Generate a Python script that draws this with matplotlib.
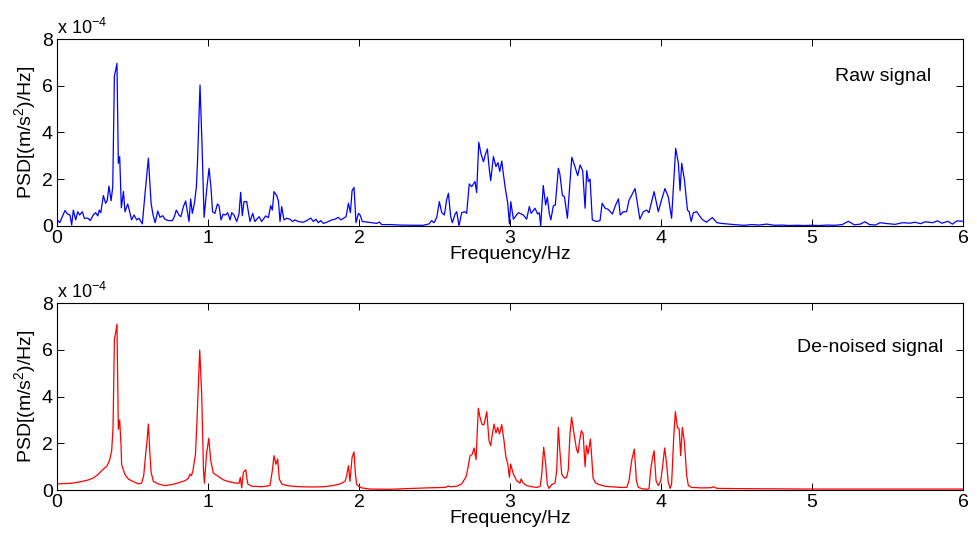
import numpy as np
import matplotlib.pyplot as plt

plt.rcParams['font.family'] = ['Liberation Sans', 'DejaVu Sans']
plt.rcParams['mathtext.fontset'] = 'custom'
plt.rcParams['mathtext.rm'] = 'Liberation Sans'

# PSD in units of 1e-4 (m/s^2)^2/Hz
freq_raw = [
    0.000, 0.018, 0.035, 0.053, 0.070, 0.086, 0.097, 0.108, 0.124, 0.137,
    0.150, 0.168, 0.181, 0.207, 0.220, 0.240, 0.256, 0.270, 0.280, 0.290,
    0.307, 0.322, 0.333, 0.344, 0.358, 0.369, 0.380, 0.389, 0.397, 0.406,
    0.415, 0.426, 0.440, 0.450, 0.468, 0.481, 0.494, 0.510, 0.528, 0.543,
    0.565, 0.583, 0.605, 0.623, 0.636, 0.650, 0.667, 0.682, 0.700, 0.715,
    0.737, 0.764, 0.777, 0.790, 0.808, 0.820, 0.837, 0.852, 0.865, 0.874,
    0.885, 0.896, 0.910, 0.923, 0.930, 0.947, 0.960, 0.974, 0.993, 1.007,
    1.020, 1.030, 1.046, 1.062, 1.073, 1.086, 1.100, 1.117, 1.130, 1.146,
    1.157, 1.172, 1.190, 1.205, 1.216, 1.227, 1.238, 1.256, 1.267, 1.278,
    1.296, 1.310, 1.338, 1.355, 1.382, 1.400, 1.415, 1.426, 1.437, 1.455,
    1.466, 1.477, 1.488, 1.503, 1.521, 1.543, 1.560, 1.576, 1.598, 1.630,
    1.654, 1.680, 1.698, 1.715, 1.730, 1.746, 1.764, 1.786, 1.820, 1.841,
    1.863, 1.881, 1.914, 1.930, 1.943, 1.954, 1.967, 1.980, 1.996, 2.007,
    2.022, 2.051, 2.084, 2.117, 2.135, 2.150, 2.206, 2.270, 2.360, 2.426,
    2.464, 2.481, 2.497, 2.515, 2.532, 2.548, 2.565, 2.580, 2.592, 2.607,
    2.618, 2.636, 2.647, 2.662, 2.680, 2.700, 2.713, 2.730, 2.746, 2.768,
    2.779, 2.793, 2.808, 2.824, 2.839, 2.850, 2.863, 2.872, 2.890, 2.907,
    2.920, 2.932, 2.945, 2.967, 2.985, 2.996, 3.005, 3.022, 3.055, 3.088,
    3.110, 3.128, 3.140, 3.165, 3.183, 3.194, 3.203, 3.220, 3.236, 3.247,
    3.260, 3.270, 3.287, 3.300, 3.320, 3.330, 3.347, 3.360, 3.380, 3.409,
    3.430, 3.448, 3.464, 3.481, 3.497, 3.508, 3.519, 3.530, 3.545, 3.574,
    3.596, 3.610, 3.630, 3.650, 3.678, 3.695, 3.718, 3.730, 3.750, 3.772,
    3.788, 3.828, 3.860, 3.883, 3.905, 3.920, 3.954, 3.982, 4.000, 4.026,
    4.048, 4.070, 4.097, 4.115, 4.126, 4.137, 4.155, 4.175, 4.186, 4.200,
    4.214, 4.236, 4.270, 4.300, 4.340, 4.370, 4.400, 4.468, 4.500, 4.550,
    4.600, 4.650, 4.700, 4.750, 4.800, 4.850, 4.900, 4.950, 5.000, 5.050,
    5.100, 5.150, 5.200, 5.240, 5.280, 5.320, 5.350, 5.380, 5.420, 5.450,
    5.500, 5.550, 5.600, 5.650, 5.680, 5.720, 5.750, 5.800, 5.830, 5.860,
    5.900, 5.930, 5.960, 6.000,
]
psd_raw = [
    0.29, 0.14, 0.40, 0.66, 0.51, 0.47, 0.04, 0.68, 0.26, 0.61,
    0.47, 0.61, 0.33, 0.33, 0.23, 0.47, 0.57, 0.43, 0.68, 0.57,
    1.30, 0.97, 1.10, 1.71, 1.08, 1.68, 6.42, 6.68, 6.96, 2.68,
    2.97, 0.78, 1.48, 0.61, 0.94, 0.61, 0.26, 0.47, 0.26, 0.33,
    0.09, 1.40, 2.90, 0.97, 0.47, 0.14, 0.64, 0.37, 0.44, 0.29,
    0.23, 0.23, 0.40, 0.68, 0.46, 0.40, 0.83, 1.07, 0.54, 0.19,
    1.16, 0.54, 0.97, 1.68, 2.68, 6.03, 3.54, 0.37, 1.68, 2.47,
    1.61, 0.61, 0.54, 0.94, 0.87, 0.26, 0.50, 0.47, 0.57, 0.26,
    0.57, 0.47, 0.19, 0.50, 1.44, 0.44, 1.04, 1.04, 0.61, 0.19,
    0.54, 0.19, 0.40, 0.19, 0.43, 0.36, 0.87, 0.68, 1.47, 1.30,
    1.08, 0.19, 0.83, 0.26, 0.33, 0.29, 0.19, 0.26, 0.19, 0.16,
    0.23, 0.34, 0.19, 0.29, 0.14, 0.23, 0.11, 0.16, 0.26, 0.29,
    0.37, 0.26, 0.40, 0.97, 0.57, 1.51, 1.65, 0.14, 0.54, 0.47,
    0.19, 0.17, 0.14, 0.11, 0.17, 0.06, 0.06, 0.04, 0.03, 0.03,
    0.09, 0.23, 0.14, 0.37, 1.04, 0.57, 0.47, 1.11, 1.40, 0.40,
    0.14, 0.51, 0.61, 0.01, 0.57, 0.61, 0.54, 1.80, 1.68, 1.90,
    1.43, 3.58, 3.08, 2.75, 3.10, 3.30, 2.40, 1.94, 2.97, 2.54,
    2.71, 2.33, 2.78, 1.68, 0.97, 0.09, 1.04, 0.29, 0.57, 0.47,
    0.29, 0.83, 0.54, 0.76, 0.51, 0.57, 0.00, 1.73, 0.90, 1.23,
    0.54, 0.26, 0.86, 0.90, 2.47, 2.23, 1.30, 1.26, 0.33, 2.94,
    2.54, 2.15, 2.61, 2.37, 0.76, 2.37, 1.90, 2.00, 0.26, 0.19,
    0.23, 0.97, 0.76, 0.71, 0.51, 0.83, 1.16, 0.47, 0.61, 0.61,
    1.10, 1.60, 0.29, 0.61, 0.68, 0.57, 1.47, 0.61, 1.04, 1.60,
    1.25, 0.33, 3.32, 2.68, 1.51, 2.68, 1.97, 0.68, 0.61, 0.19,
    0.57, 0.61, 0.30, 0.16, 0.36, 0.14, 0.11, 0.07, 0.05, 0.03,
    0.06, 0.04, 0.08, 0.03, 0.04, 0.02, 0.03, 0.02, 0.03, 0.02,
    0.04, 0.03, 0.06, 0.20, 0.05, 0.08, 0.18, 0.06, 0.04, 0.14,
    0.10, 0.07, 0.14, 0.12, 0.16, 0.10, 0.18, 0.14, 0.22, 0.12,
    0.20, 0.08, 0.22, 0.20,
]

freq_den = [
    0.000, 0.097, 0.163, 0.207, 0.240, 0.274, 0.302, 0.329, 0.347, 0.362,
    0.371, 0.380, 0.389, 0.397, 0.406, 0.415, 0.424, 0.428, 0.450, 0.472,
    0.505, 0.539, 0.560, 0.574, 0.587, 0.596, 0.605, 0.614, 0.623, 0.638,
    0.670, 0.715, 0.760, 0.800, 0.848, 0.870, 0.880, 0.890, 0.900, 0.917,
    0.927, 0.945, 0.958, 0.970, 0.976, 0.990, 1.005, 1.018, 1.035, 1.068,
    1.100, 1.135, 1.180, 1.205, 1.214, 1.223, 1.234, 1.250, 1.263, 1.290,
    1.355, 1.410, 1.426, 1.437, 1.450, 1.461, 1.472, 1.488, 1.510, 1.543,
    1.610, 1.698, 1.764, 1.830, 1.874, 1.907, 1.918, 1.930, 1.940, 1.954,
    1.967, 1.976, 1.985, 1.998, 2.018, 2.073, 2.206, 2.316, 2.448, 2.570,
    2.592, 2.603, 2.647, 2.680, 2.709, 2.724, 2.735, 2.748, 2.762, 2.775,
    2.790, 2.800, 2.815, 2.828, 2.846, 2.861, 2.872, 2.883, 2.894, 2.907,
    2.918, 2.930, 2.945, 2.960, 2.972, 2.985, 2.996, 3.004, 3.022, 3.044,
    3.066, 3.073, 3.088, 3.110, 3.144, 3.177, 3.200, 3.210, 3.223, 3.236,
    3.247, 3.258, 3.276, 3.298, 3.309, 3.320, 3.330, 3.342, 3.360, 3.375,
    3.386, 3.397, 3.408, 3.424, 3.440, 3.450, 3.461, 3.472, 3.484, 3.497,
    3.506, 3.517, 3.532, 3.541, 3.550, 3.567, 3.590, 3.630, 3.673, 3.728,
    3.773, 3.788, 3.806, 3.823, 3.837, 3.850, 3.883, 3.920, 3.932, 3.945,
    3.954, 3.967, 3.982, 3.998, 4.009, 4.024, 4.037, 4.048, 4.060, 4.070,
    4.084, 4.095, 4.108, 4.120, 4.130, 4.141, 4.155, 4.170, 4.181, 4.203,
    4.270, 4.336, 4.347, 4.370, 4.490, 5.000, 5.500, 6.000,
]
psd_den = [
    0.26, 0.29, 0.36, 0.43, 0.51, 0.68, 0.87, 1.01, 1.25, 1.68,
    2.68, 6.46, 6.75, 7.10, 2.60, 3.00, 1.90, 1.08, 0.66, 0.47,
    0.36, 0.26, 0.29, 0.61, 1.54, 2.10, 2.82, 1.68, 0.76, 0.37,
    0.26, 0.19, 0.23, 0.30, 0.40, 0.50, 0.68, 0.61, 0.83, 1.54,
    2.97, 5.99, 4.10, 0.83, 0.29, 1.54, 2.21, 1.25, 0.73, 0.58,
    0.44, 0.36, 0.30, 0.29, 0.54, 0.09, 0.76, 0.87, 0.26, 0.16,
    0.14, 0.19, 0.83, 1.47, 1.10, 1.33, 0.47, 0.26, 0.21, 0.17,
    0.14, 0.13, 0.14, 0.19, 0.26, 0.37, 0.61, 1.04, 0.37, 1.40,
    1.63, 0.68, 0.23, 0.16, 0.09, 0.04, 0.03, 0.06, 0.09, 0.11,
    0.17, 0.14, 0.16, 0.26, 0.57, 1.04, 1.47, 1.51, 1.80, 1.30,
    3.50, 3.14, 2.80, 2.80, 3.35, 2.10, 1.90, 2.40, 2.82, 2.44,
    2.68, 2.40, 2.80, 2.11, 1.44, 1.10, 0.54, 1.11, 0.68, 0.40,
    0.29, 0.47, 0.29, 0.19, 0.14, 0.11, 0.16, 0.68, 1.83, 1.11,
    0.23, 0.07, 0.23, 0.30, 0.83, 2.68, 1.68, 0.68, 0.51, 0.54,
    0.87, 2.40, 3.11, 2.40, 1.75, 1.58, 2.11, 2.54, 2.40, 1.00,
    1.90, 1.54, 2.18, 1.40, 0.51, 0.30, 0.23, 0.16, 0.14, 0.11,
    0.11, 0.40, 1.28, 1.75, 0.40, 0.11, 0.04, 0.04, 0.90, 1.43,
    1.68, 0.40, 0.19, 0.40, 0.94, 1.80, 1.11, 0.33, 0.07, 0.26,
    2.25, 3.35, 2.68, 2.61, 1.47, 2.68, 2.04, 0.61, 0.19, 0.11,
    0.09, 0.10, 0.14, 0.07, 0.06, 0.04, 0.04, 0.04,
]

freq_ticks = [0, 1, 2, 3, 4, 5, 6]
psd_ticks = [0, 2, 4, 6, 8]

fig = plt.figure(figsize=(9.78, 5.35), dpi=100)
ax1 = fig.add_axes([0.0583, 0.5776, 0.9264, 0.3495])
ax2 = fig.add_axes([0.0583, 0.0841, 0.9264, 0.3495])

panels = [
    (ax1, freq_raw, psd_raw, '#0000ff', 'Raw signal', 5.15, 6.4),
    (ax2, freq_den, psd_den, '#ff0000', 'De-noised signal', 4.9, 6.1),
]

for ax, f, p, col, name, tx, ty in panels:
    ax.plot(np.array(f), np.array(p), color=col, lw=0.9)
    ax.set_xlim(0, 6)
    ax.set_ylim(0, 8)
    ax.set_xticks(freq_ticks)
    ax.set_yticks(psd_ticks)
    ax.tick_params(direction='in', top=True, right=True, length=5,
                   width=0.7, labelsize=14, pad=3)
    for s in ax.spines.values():
        s.set_linewidth(0.8)
    ax.set_xlabel('Frequency/Hz', fontsize=14, labelpad=-1)
    ax.set_ylabel('PSD[(m/s$^2$)/Hz]', fontsize=14, labelpad=2)
    ax.text(0, 1.005, 'x 10$^{-4}$', transform=ax.transAxes,
            fontsize=13, ha='left', va='bottom')
    ax.text(tx, ty, name, fontsize=14, ha='left', va='center')

fig.savefig('out.png', dpi=100)
